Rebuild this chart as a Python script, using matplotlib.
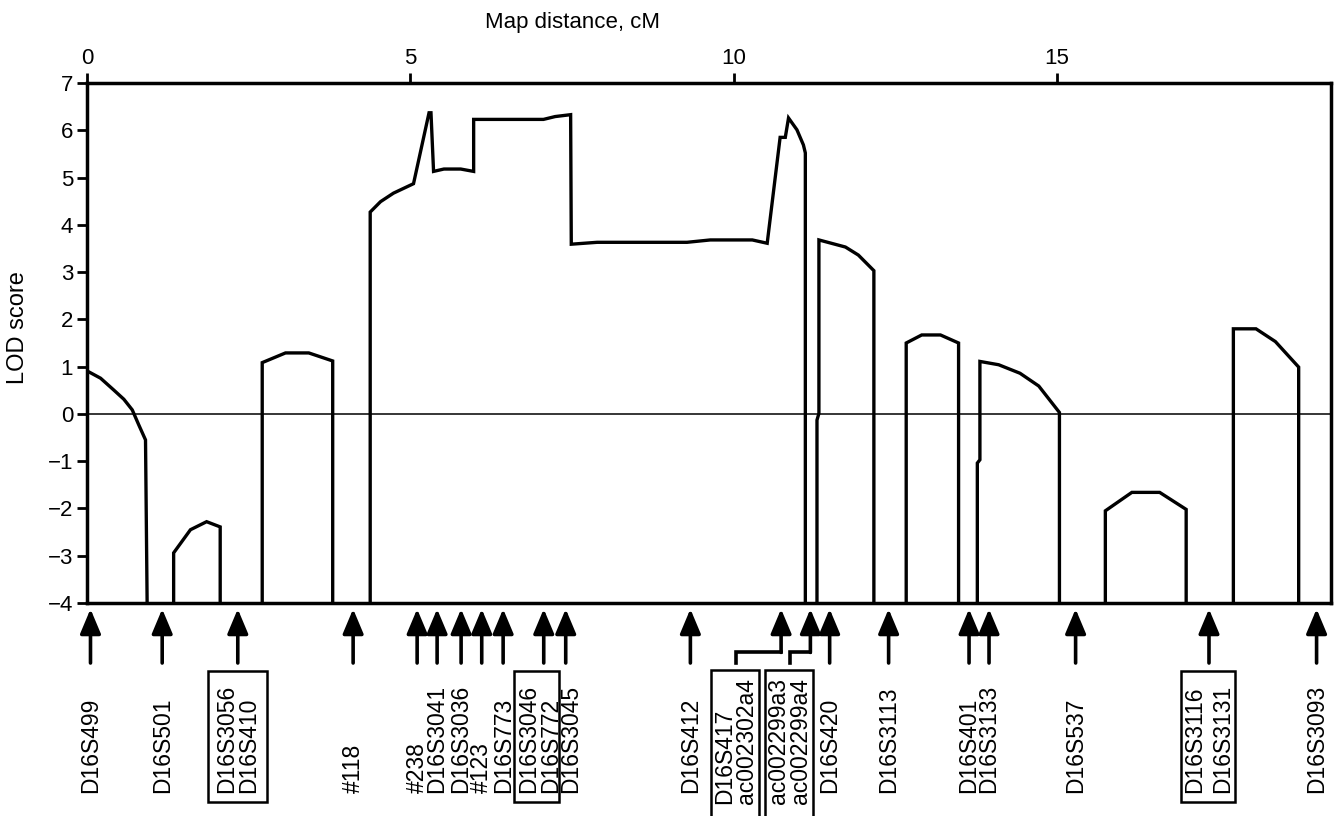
import matplotlib.pyplot as plt
from matplotlib.patches import Rectangle
from matplotlib.transforms import offset_copy

plt.rcParams['font.family'] = ['Liberation Sans', 'DejaVu Sans']

# LOD score curve, one list per drawn piece (map distance in cM, LOD)
seg_x = [
    [0.0, 0.21, 0.41, 0.57, 0.70, 0.80, 0.905, 0.93],
    [1.34, 1.34, 1.60, 1.85, 2.06, 2.06],
    [2.71, 2.71, 3.07, 3.43, 3.80, 3.80],
    [4.38, 4.38, 4.54, 4.74, 5.05, 5.29, 5.32, 5.36, 5.52, 5.78, 5.98, 5.98,
     7.06, 7.24, 7.48, 7.49, 7.89, 9.28, 9.64, 10.29, 10.52, 10.72, 10.80,
     10.85, 10.98, 11.08, 11.11, 11.11],
    [11.29, 11.29, 11.32, 11.32, 11.73, 11.93, 12.17, 12.17],
    [12.67, 12.67, 12.91, 13.20, 13.48, 13.48],
    [13.77, 13.77, 13.81, 13.81, 14.10, 14.43, 14.72, 15.04, 15.04],
    [15.75, 15.75, 16.16, 16.59, 17.00, 17.00],
    [17.73, 17.73, 18.08, 18.38, 18.74, 18.74],
]
seg_y = [
    [0.91, 0.755, 0.51, 0.31, 0.085, -0.23, -0.55, -4],
    [-4, -2.94, -2.45, -2.28, -2.39, -4],
    [-4, 1.085, 1.29, 1.29, 1.12, -4],
    [-4, 4.27, 4.49, 4.67, 4.87, 6.37, 6.37, 5.13, 5.18, 5.18, 5.13, 6.23,
     6.23, 6.29, 6.33, 3.59, 3.63, 3.63, 3.68, 3.68, 3.61, 5.85, 5.85,
     6.26, 6.01, 5.69, 5.52, -4],
    [-4, -0.13, 0.01, 3.68, 3.53, 3.36, 3.03, -4],
    [-4, 1.50, 1.67, 1.67, 1.50, -4],
    [-4, -1.04, -0.97, 1.11, 1.04, 0.86, 0.59, 0.03, -4],
    [-4, -2.05, -1.66, -1.66, -2.02, -4],
    [-4, 1.80, 1.80, 1.53, 0.99, -4],
]

# markers along the map
marker_pos = [0.054, 1.163, 2.332, 4.116, 5.106, 5.415, 5.786, 6.105, 6.436,
              7.064, 7.404, 9.332, 10.735, 11.188, 11.486, 12.398, 13.642,
              13.951, 15.290, 17.353, 19.017]
marker_names = [["D16S499"], ["D16S501"], ["D16S3056", "D16S410"], ["#118"],
                ["#238"], ["D16S3041"], ["D16S3036"], ["#123"], ["D16S773"],
                ["D16S3046", "D16S772"], ["D16S3045"], ["D16S412"],
                ["D16S417", "ac002302a4"], ["ac002299a3", "ac002299a4"],
                ["D16S420"], ["D16S3113"], ["D16S401"], ["D16S3133"],
                ["D16S537"], ["D16S3116", "D16S3131"], ["D16S3093"]]
label_pos = list(marker_pos)
label_pos[9] = 6.997
label_pos[10] = 7.477
label_pos[12] = 10.036
label_pos[13] = 10.871
lowered = [12, 13]   # labels hung below a connector

xticks = [0, 5, 10, 15]
yticks = list(range(-4, 8))

fig = plt.figure(figsize=(13.38, 8.16), dpi=100)
ax = fig.add_axes([87 / 1338, 213 / 816, 1244 / 1338, 520 / 816])

for xs, ys in zip(seg_x, seg_y):
    ax.plot(xs, ys, color='black', lw=2.4, solid_joinstyle='miter')
ax.axhline(0, color='black', lw=1.1)

ax.set_xlim(0, 19.24)
ax.set_ylim(-4, 7)
ax.xaxis.tick_top()
ax.set_xticks(xticks)
ax.set_yticks(yticks)
ax.tick_params(axis='both', direction='out', length=7, width=2, labelsize=16, pad=3)
for s in ax.spines.values():
    s.set_linewidth(2.5)

ax.text(0.39, 1.117, 'Map distance, cM', transform=ax.transAxes,
        ha='center', va='center', fontsize=16)
ax.set_ylabel('LOD score', fontsize=17)
ax.yaxis.set_label_coords(-0.0464, 0.53)

trans = ax.get_xaxis_transform()
px_per_cm = 64.67
arrow_props = dict(arrowstyle='-|>,head_length=1.0,head_width=0.42', mutation_scale=15,
                   lw=2.6, color='black', shrinkA=0, shrinkB=0)

for i, (m, names, lx) in enumerate(zip(marker_pos, marker_names, label_pos)):
    low = i in lowered
    tail = -0.095 if low else -0.1154
    ax.annotate('', xy=(m, -0.0115), xytext=(m, tail), xycoords=trans,
                textcoords=trans, arrowprops=arrow_props, annotation_clip=False)
    if low:
        ax.plot([m, lx, lx], [tail, tail, -0.1154], transform=trans, color='black',
                lw=2.6, clip_on=False, solid_joinstyle='miter')
    gap = 28 if names[0] == "D16S3116" else 22
    n = len(names)
    text_y = -0.3865 if low else -0.365
    for k, name in enumerate(names):
        off = (k - (n - 1) / 2) * gap
        tr = offset_copy(trans, fig=fig, x=off, y=0, units='dots')
        ax.text(lx, text_y, name, transform=tr, rotation=90, ha='center',
                va='bottom', fontsize=16.5, clip_on=False)
    if n > 1:
        # box margins (px) left of first line / right of last line
        ml, mr = 14, 12
        if names[0] == "D16S3056":
            ml, mr = 19, 18
        elif names[0] == "D16S3046":
            ml, mr = 14, 9
        left = lx - (gap * (n - 1) / 2 + ml) / px_per_cm
        right = lx + (gap * (n - 1) / 2 + mr) / px_per_cm
        top = -0.1288 if low else -0.1308
        bottom = -0.45 if low else -0.3833
        ax.add_patch(Rectangle((left, bottom), right - left, top - bottom,
                               transform=trans, fill=False, lw=1.8,
                               edgecolor='black', clip_on=False))

fig.savefig('out.png', dpi=100)
